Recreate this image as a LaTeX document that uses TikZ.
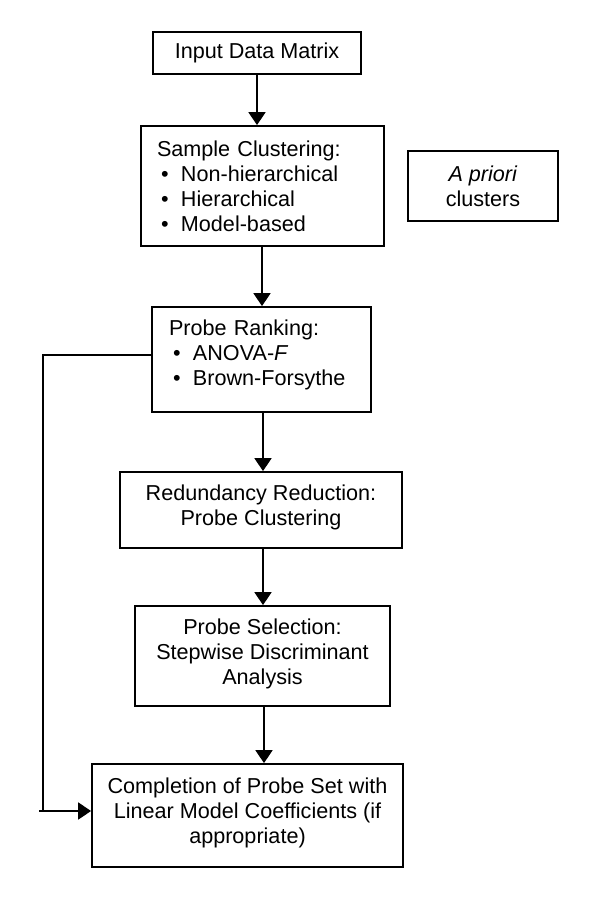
\documentclass[tikz,border=0pt]{standalone}
\usepackage{fontspec}
\setmainfont{Liberation Sans}
\usetikzlibrary{arrows.meta}
\newcommand\bl{\hspace*{4pt}\makebox[20pt][l]{\textbullet}}
\begin{document}
\begin{tikzpicture}[x=1pt,y=-1pt,
  box/.style={draw,line width=1.8pt,inner sep=0pt,font=\fontsize{21.6}{25}\selectfont},
  arr/.style={line width=1.8pt,-{Triangle[width=17pt,length=13pt]}},
  ln/.style={line width=1.8pt}]
\useasboundingbox (0,0) rectangle (600,910);
\node[box,minimum width=208pt,minimum height=42pt] (in) at (257,53) {Input Data Matrix};
\node[box,minimum width=243pt,minimum height=120pt,text width=211pt,align=left] (sc) at (262.5,186)
  {Sample Clustering:\\\bl Non-hierarchical\\\bl Hierarchical\\\bl Model-based};
\node[box,minimum width=150pt,minimum height=70pt,align=center] (ap) at (483,186)
  {\textit{A priori}\\clusters};
\node[box,minimum width=219pt,minimum height=105pt,text width=185pt,align=left] (pr) at (261.5,359.5)
  {Probe Ranking:\\\bl ANOVA-\textit{F}\\\bl Brown-Forsythe\rule[-14.5pt]{0pt}{0pt}};
\node[box,minimum width=282pt,minimum height=76pt,align=center] (rr) at (261,510)
  {Redundancy Reduction:\\Probe Clustering\rule[-10.5pt]{0pt}{0pt}};
\node[box,minimum width=255pt,minimum height=100pt,align=center] (ps) at (262.5,656)
  {Probe Selection:\\Stepwise Discriminant\\Analysis\rule[-9.5pt]{0pt}{0pt}};
\node[box,minimum width=311pt,minimum height=103pt,align=center] (cp) at (247.5,815.5)
  {Completion of Probe Set with\\Linear Model Coefficients (if\\appropriate)\rule[-10.5pt]{0pt}{0pt}};
\coordinate (fbk) at (43,355);
\coordinate (fbkb) at (43,811);
\coordinate (fbks) at (39,811);
\draw[arr] (in.south) -- (in.south |- sc.north);
\draw[arr] ([xshift=-0.5pt]sc.south) -- ([xshift=-0.5pt]sc.south |- pr.north);
\draw[arr] ([xshift=1.5pt]pr.south) -- ([xshift=1.5pt]pr.south |- rr.north);
\draw[arr] ([xshift=2pt]rr.south) -- ([xshift=2pt]rr.south |- ps.north);
\draw[arr] ([xshift=1.5pt]ps.south) -- ([xshift=1.5pt]ps.south |- cp.north);
\draw[ln] (pr.west |- fbk) -- (fbk) -- (fbkb);
\draw[arr] (fbks) -- (fbks -| cp.west);
\end{tikzpicture}
\end{document}
